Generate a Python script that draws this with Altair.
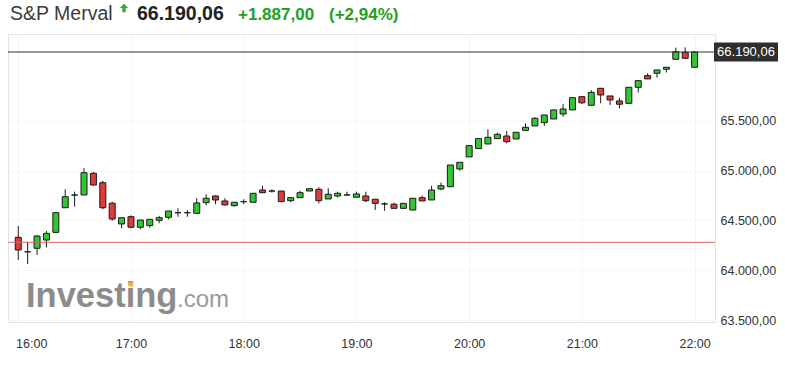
import altair as alt
import pandas as pd

# ---- data (5-minute candles starting 16:00) ----
opens = [64330, 64185, 64220, 64303, 64380, 64627, 64755, 64755, 64973, 64878,
         64672, 64464, 64537, 64431, 64447, 64501, 64531, 64577, 64577, 64571,
         64678, 64745, 64695, 64648, 64688, 64682, 64805, 64795, 64795, 64698,
         64728, 64795, 64812, 64715, 64745, 64755, 64732, 64745, 64712, 64665,
         64662, 64621, 64604, 64728, 64705, 64815, 64838, 65016, 65137, 65221,
         65267, 65321, 65347, 65317, 65404, 65448, 65481, 65518, 65568, 65609,
         65742, 65655, 65826, 65749, 65699, 65675, 65836, 65953, 65977, 66017,
         66117, 66187, 66037]
highs = [64444, 64285, 64353, 64394, 64584, 64812, 64788, 65023, 64985, 64898,
         64688, 64527, 64550, 64504, 64511, 64544, 64594, 64621, 64604, 64722,
         64762, 64750, 64722, 64682, 64712, 64772, 64848, 64812, 64795, 64728,
         64798, 64818, 64832, 64822, 64788, 64788, 64788, 64788, 64712, 64682,
         64678, 64671, 64722, 64750, 64848, 64878, 65056, 65083, 65250, 65321,
         65414, 65381, 65398, 65384, 65474, 65535, 65558, 65609, 65668, 65732,
         65742, 65806, 65826, 65749, 65730, 65836, 65903, 65977, 66010, 66040,
         66234, 66237, 66200]
lows = [64102, 64062, 64153, 64230, 64373, 64627, 64638, 64755, 64850, 64611,
        64497, 64420, 64420, 64411, 64427, 64471, 64511, 64537, 64537, 64571,
        64651, 64662, 64650, 64638, 64662, 64682, 64778, 64778, 64688, 64682,
        64728, 64795, 64671, 64715, 64728, 64755, 64732, 64682, 64604, 64597,
        64621, 64621, 64604, 64695, 64705, 64802, 64838, 64999, 65137, 65221,
        65267, 65321, 65274, 65317, 65404, 65448, 65448, 65518, 65541, 65609,
        65668, 65655, 65675, 65659, 65625, 65675, 65783, 65920, 65933, 65985,
        66117, 66127, 66037]
closes = [64203, 64185, 64343, 64370, 64577, 64738, 64755, 64979, 64855, 64627,
          64514, 64527, 64431, 64504, 64511, 64527, 64594, 64577, 64577, 64675,
          64722, 64705, 64655, 64682, 64688, 64772, 64778, 64795, 64688, 64728,
          64778, 64818, 64698, 64762, 64772, 64755, 64765, 64698, 64671, 64665,
          64621, 64671, 64722, 64695, 64805, 64848, 65056, 65083, 65250, 65321,
          65334, 65364, 65290, 65384, 65434, 65525, 65558, 65609, 65618, 65732,
          65681, 65785, 65759, 65709, 65666, 65836, 65903, 65920, 66010, 66037,
          66193, 66127, 66190.06]

last_price = 66190.06
prev_close_line = 64280
hour_ticks = [0, 60, 120, 180, 240, 300, 360]          # minutes after 16:00
price_ticks = [63500, 64000, 64500, 65000, 65500]

title_name = "S&P Merval"
title_price = "66.190,06"
title_change = "+1.887,00"
title_pct = "(+2,94%)"

minutes = [5 * k for k in range(len(opens))]
df = pd.DataFrame({"t": minutes, "open": opens, "high": highs,
                   "low": lows, "close": closes})
df["dir"] = ["up" if c > o else ("down" if c < o else "flat")
             for o, c in zip(df["open"], df["close"])]

one = pd.DataFrame({"a": [0]})

FONT = "Liberation Sans"
W, H = 707, 288

xscale = alt.Scale(domain=[-2.8, 368.2], nice=False, zero=False)
yscale = alt.Scale(domain=[63480, 66371], nice=False, zero=False)

x_axis = alt.Axis(
    values=hour_ticks, title=None, domain=False, ticks=False,
    grid=True, gridColor="#f5f5f5",
    labelExpr="(16 + floor(datum.value / 60)) + ':00'",
    labelFont=FONT, labelFontSize=12.5, labelColor="#333333", labelPadding=15,
    labelOffset={"condition": {"test": "datum.value === 0", "value": 13},
                 "value": 0},
)
y_axis = alt.Axis(
    values=price_ticks, orient="right", title=None, domain=False, ticks=False,
    grid=True, gridColor="#f5f5f5",
    labelExpr="replace(replace(replace(format(datum.value, ',.2f'), ',', '#'), '.', ','), '#', '.')",
    labelFont=FONT, labelFontSize=12.5, labelColor="#333333", labelPadding=5,
)

wicks = alt.Chart(df).mark_rule(color="#1a1a1a", strokeWidth=1).encode(
    x=alt.X("t:Q", scale=xscale, axis=x_axis),
    y=alt.Y("low:Q", scale=yscale, axis=y_axis),
    y2="high:Q",
)

bodies = alt.Chart(df).mark_bar(size=6, stroke="#1a1a1a", strokeWidth=1).encode(
    x=alt.X("t:Q", scale=xscale, axis=x_axis),
    y=alt.Y("open:Q", scale=yscale, axis=y_axis),
    y2="close:Q",
    fill=alt.Fill("dir:N", legend=None,
                  scale=alt.Scale(domain=["up", "down", "flat"],
                                  range=["#35c435", "#e03b3b", "#1a1a1a"])),
)

prev_line = alt.Chart(one).mark_rule(color="#e06262", strokeWidth=1).encode(
    y=alt.Y(datum=prev_close_line, scale=yscale, axis=y_axis),
)
price_line = alt.Chart(one).mark_rule(color="#333333", strokeWidth=1).encode(
    y=alt.Y(datum=last_price, scale=yscale, axis=y_axis),
)
price_box = alt.Chart(one).mark_rect(color="#2e2e2e", yOffset=-9.5, y2Offset=9.5).encode(
    x=alt.value(706), x2=alt.value(770),
    y=alt.Y(datum=last_price, scale=yscale, axis=y_axis),
    y2=alt.Y2(datum=last_price),
)
price_text = alt.Chart(one).mark_text(
    color="white", font=FONT, fontSize=13, align="center", baseline="middle"
).encode(
    x=alt.value(738),
    y=alt.Y(datum=last_price, scale=yscale, axis=y_axis),
    text=alt.value(title_price),
)

def label(txt, x, y, size, color, weight="normal", align="left"):
    return alt.Chart(one).mark_text(
        font=FONT, fontSize=size, color=color, fontWeight=weight,
        align=align, baseline="alphabetic"
    ).encode(x=alt.value(x), y=alt.value(y), text=alt.value(txt))

t1 = label(title_name, 2, -14, 19.5, "#3a3a3a")
t2 = label(title_price, 129, -14, 19.5, "#222222", "bold")
t3 = label(title_change, 230, -14.5, 17, "#21a021", "bold")
t4 = label(title_pct, 321, -14.5, 17, "#21a021", "bold")
arrow = alt.Chart(one).mark_point(
    shape="M0,-1L1,0L0.4,0L0.4,1L-0.4,1L-0.4,0L-1,0Z",
    filled=True, color="#2fae2f", size=70, opacity=1
).encode(x=alt.value(116), y=alt.value(-26))

wm1 = label("Investing", 18, 272.7, 34.5, "#8c8c8c", "bold")
wm2 = label(".com", 169, 272.7, 24, "#9a9a9a")
wm_dot = alt.Chart(one).mark_square(color="#f2b13a", size=22, opacity=1).encode(
    x=alt.value(122.8), y=alt.value(250.2)
)

chart = alt.layer(
    wicks, bodies, prev_line, price_line, price_box, price_text,
    wm1, wm2, wm_dot, t1, t2, t3, t4, arrow,
).properties(
    width=W, height=H,
    background="white",
    autosize=alt.AutoSizeParams(type="none"),
    padding={"left": 8, "top": 34, "right": 70, "bottom": 44},
).configure_view(
    stroke="#e3e3e3", strokeWidth=1
)

chart.save("out.html", embed_options={"renderer": "svg", "actions": False})
